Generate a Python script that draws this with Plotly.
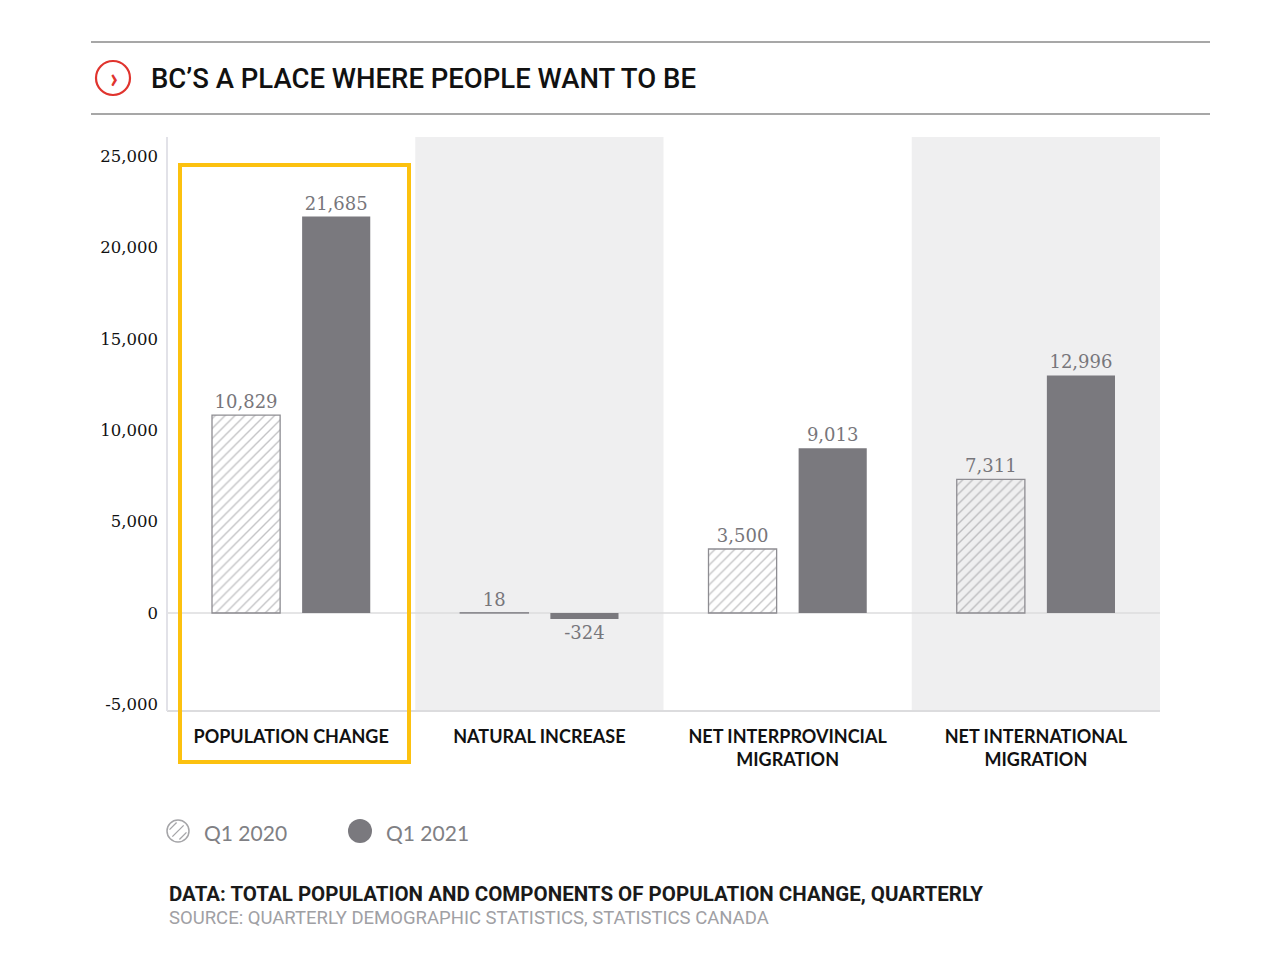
import plotly.graph_objects as go

categories = ["POPULATION CHANGE", "NATURAL INCREASE", "NET INTERPROVINCIAL<br>MIGRATION", "NET INTERNATIONAL<br>MIGRATION"]
q1_2020 = [10829, 18, 3500, 7311]
q1_2021 = [21685, -324, 9013, 12996]
y_ticks = [-5000, 0, 5000, 10000, 15000, 20000, 25000]
y_tick_labels = ["-5,000", "0", "5,000", "10,000", "15,000", "20,000", "25,000"]

OFF = 8  # page body margin
W, H = 1280, 963
L, T = 167 - OFF, 137 - OFF
PW, PH = 1160 - 167, 711 - 137
R = W - L - PW
B = H - T - PH

def px(x):
    return (x - OFF - L) / PW

def py(y):
    return (T + PH - (y - OFF)) / PH

SERIF = "DejaVu Serif, Liberation Serif, serif"
SANS = "Lato, Open Sans, sans-serif"
NARROW = "Roboto, Liberation Sans, sans-serif"

fig = go.Figure()
fig.add_trace(go.Bar(
    x=categories, y=q1_2020, name="Q1 2020",
    text=[f"{v:,}" for v in q1_2020], textposition="outside",
    textfont=dict(family=SERIF, size=18, color="#77767b"),
    marker=dict(color="rgba(0,0,0,0)",
                line=dict(color="#8e8d92", width=1.3),
                pattern=dict(shape="/", fgcolor="#8a898e", size=7, solidity=0.2, fillmode="overlay")),
    cliponaxis=False, showlegend=False,
))
fig.add_trace(go.Bar(
    x=categories, y=q1_2021, name="Q1 2021",
    text=[f"{v:,}" for v in q1_2021], textposition="outside",
    textfont=dict(family=SERIF, size=18, color="#77767b"),
    marker=dict(color="#7a797e", line=dict(width=0)),
    cliponaxis=False, showlegend=False,
))

shapes = []
for xc in (1, 3):
    shapes.append(dict(type="rect", xref="x", yref="paper", x0=xc - 0.5, x1=xc + 0.5, y0=0, y1=1,
                       fillcolor="#efeff0", line=dict(width=0), layer="below"))
shapes.append(dict(type="line", xref="paper", yref="y", x0=0, x1=1, y0=0, y1=0,
                   line=dict(color="#dcdcde", width=1.5), layer="below"))
shapes.append(dict(type="line", xref="paper", yref="paper", x0=0, x1=1, y0=0, y1=0,
                   line=dict(color="#dcdcde", width=2), layer="below"))
shapes.append(dict(type="line", xref="paper", yref="paper", x0=0, x1=0, y0=0, y1=1,
                   line=dict(color="#e2e2e8", width=2), layer="below"))
# yellow highlight box
shapes.append(dict(type="rect", xref="x", yref="paper",
                   x0=-0.5 + (180 - 167) / (PW / 4), x1=-0.5 + (409 - 167) / (PW / 4),
                   y0=py(762), y1=py(165),
                   line=dict(color="#fcc10f", width=4), fillcolor="rgba(0,0,0,0)"))
# header rules
for yy in (42, 114):
    shapes.append(dict(type="line", xref="paper", yref="paper", x0=px(91), x1=px(1210), y0=py(yy), y1=py(yy),
                       line=dict(color="#8a8a8a", width=1.5)))
# red circle icon
shapes.append(dict(type="circle", xref="paper", yref="paper", xsizemode="pixel", ysizemode="pixel",
                   xanchor=px(113), yanchor=py(78), x0=-17, x1=17, y0=-17, y1=17,
                   line=dict(color="#e0342e", width=2.2)))
# legend: hatched circle
shapes.append(dict(type="circle", xref="paper", yref="paper", xsizemode="pixel", ysizemode="pixel",
                   xanchor=px(178), yanchor=py(831), x0=-11, x1=11, y0=-11, y1=11,
                   line=dict(color="#a5a5a8", width=1.5)))
for off, half in ((-7, 5), (0, 8), (7, 5)):
    shapes.append(dict(type="line", xref="paper", yref="paper", xsizemode="pixel", ysizemode="pixel",
                       xanchor=px(178), yanchor=py(831),
                       x0=off / 1.414 - half / 1.414, y0=-off / 1.414 - half / 1.414,
                       x1=off / 1.414 + half / 1.414, y1=-off / 1.414 + half / 1.414,
                       line=dict(color="#a5a5a8", width=1.3)))
# legend: filled circle
shapes.append(dict(type="circle", xref="paper", yref="paper", xsizemode="pixel", ysizemode="pixel",
                   xanchor=px(360), yanchor=py(831), x0=-12, x1=12, y0=-12, y1=12,
                   fillcolor="#7a797e", line=dict(width=0)))

annotations = [
    dict(text="<b>›</b>", x=px(114), y=py(77), xref="paper", yref="paper", showarrow=False,
         font=dict(family=SANS, size=28, color="#e0342e"), xanchor="center", yanchor="middle"),
    dict(text="BC’S A PLACE WHERE PEOPLE WANT TO BE", x=px(149), y=py(78), xref="paper", yref="paper",
         showarrow=False, xanchor="left", yanchor="middle",
         font=dict(family=NARROW, size=27.5, color="#111111", weight=500)),
    dict(text="Q1 2020", x=px(202), y=py(832), xref="paper", yref="paper", showarrow=False,
         xanchor="left", yanchor="middle", font=dict(family=SANS, size=21, color="#808084")),
    dict(text="Q1 2021", x=px(384), y=py(832), xref="paper", yref="paper", showarrow=False,
         xanchor="left", yanchor="middle", font=dict(family=SANS, size=21, color="#808084")),
    dict(text="<b>DATA: TOTAL POPULATION AND COMPONENTS OF POPULATION CHANGE, QUARTERLY</b>", x=px(167), y=py(894),
         xref="paper", yref="paper", showarrow=False, xanchor="left", yanchor="middle",
         font=dict(family=NARROW, size=20.5, color="#1a1a1a")),
    dict(text="SOURCE: QUARTERLY DEMOGRAPHIC STATISTICS, STATISTICS CANADA", x=px(167), y=py(918),
         xref="paper", yref="paper", showarrow=False, xanchor="left", yanchor="middle",
         font=dict(family=NARROW, size=18.5, color="#a0a0a4")),
]

y_top = (613 - 137) / 91.4 * 5000
y_bot = -(711 - 613) / 91.4 * 5000

fig.update_layout(
    width=W, height=H,
    margin=dict(l=L, r=R, t=T, b=B, pad=0),
    paper_bgcolor="#ffffff", plot_bgcolor="rgba(0,0,0,0)",
    barmode="group", bargap=0.274, bargroupgap=0.244,
    shapes=shapes, annotations=annotations,
    xaxis=dict(range=[-0.5, 3.5], showgrid=False, zeroline=False, showline=False, ticks="",
               tickfont=dict(family=SANS, size=18, color="#111111", weight="bold"), ticklabelstandoff=13,
               fixedrange=True),
    yaxis=dict(range=[y_bot, y_top], tickvals=y_ticks, ticktext=y_tick_labels, showgrid=False,
               zeroline=False, showline=False, ticks="",
               tickfont=dict(family=SERIF, size=16.5, color="#111111"), ticklabelstandoff=8,
               fixedrange=True),
    font=dict(family=SANS),
)

fig.write_html("out.html")
